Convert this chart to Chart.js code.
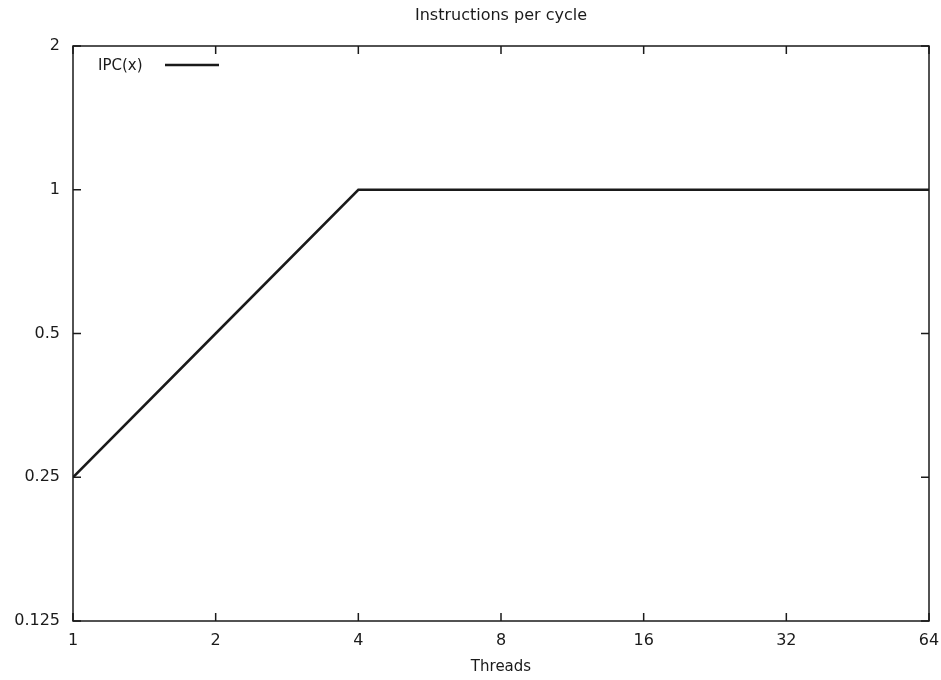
<!DOCTYPE html>
<html>
<head>
<meta charset="utf-8">
<script src="https://cdn.jsdelivr.net/npm/chart.js@4.4.1/dist/chart.umd.min.js"></script>
<style>
  html, body { margin: 0; padding: 0; background: #fff; }
  #wrap { width: 941px; height: 680px; }
</style>
</head>
<body>
<div id="wrap"><canvas id="ipc"></canvas></div>
<script>
// Data
const threads = [1, 2, 4, 8, 16, 32, 64];
const ipc = [0.25, 0.5, 1, 1, 1, 1, 1];
const xTicks = [1, 2, 4, 8, 16, 32, 64];
const yTicks = [0.125, 0.25, 0.5, 1, 2];
const chartTitle = 'Instructions per cycle';

const ink = '#1a1a1a';
const fontFamily = '"DejaVu Sans", sans-serif';

// gnuplot style frame with inward (mirrored) tick marks
const framePlugin = {
    id: 'frame',
    afterDatasetsDraw(chart) {
        const { ctx, chartArea: a, scales } = chart;
        const len = 8;
        ctx.save();
        ctx.strokeStyle = ink;
        ctx.lineWidth = 1.5;
        ctx.beginPath();
        scales.x.ticks.forEach(t => {
            const px = scales.x.getPixelForValue(t.value);
            ctx.moveTo(px, a.bottom); ctx.lineTo(px, a.bottom - len);
            ctx.moveTo(px, a.top); ctx.lineTo(px, a.top + len);
        });
        scales.y.ticks.forEach(t => {
            const py = scales.y.getPixelForValue(t.value);
            ctx.moveTo(a.left, py); ctx.lineTo(a.left + len, py);
            ctx.moveTo(a.right, py); ctx.lineTo(a.right - len, py);
        });
        ctx.stroke();
        ctx.strokeRect(a.left, a.top, a.right - a.left, a.bottom - a.top);
        ctx.restore();
    }
};

// title centred over the plot box, and key in the upper left corner
const textPlugin = {
    id: 'texts',
    afterDraw(chart) {
        const { ctx, chartArea: a } = chart;
        const ds = chart.data.datasets[0];
        ctx.save();
        ctx.fillStyle = ink;
        ctx.textBaseline = 'middle';
        ctx.font = '16px ' + fontFamily;
        ctx.textAlign = 'center';
        ctx.fillText(chartTitle, (a.left + a.right) / 2, 16);

        ctx.font = '15px ' + fontFamily;
        ctx.textAlign = 'left';
        ctx.fillText(ds.label, a.left + 25, a.top + 20);
        ctx.strokeStyle = ds.borderColor;
        ctx.lineWidth = ds.borderWidth;
        ctx.beginPath();
        ctx.moveTo(a.left + 92, a.top + 19);
        ctx.lineTo(a.left + 146, a.top + 19);
        ctx.stroke();
        ctx.restore();
    }
};

const fixTicks = (values) => (scale) => {
    scale.ticks = values.map(v => ({ value: v }));
};

new Chart(document.getElementById('ipc'), {
    type: 'line',
    data: {
        datasets: [{
            label: 'IPC(x)',
            data: threads.map((t, i) => ({ x: t, y: ipc[i] })),
            borderColor: ink,
            borderWidth: 2.5,
            pointRadius: 0,
            tension: 0,
            fill: false
        }]
    },
    options: {
        responsive: true,
        maintainAspectRatio: false,
        animation: false,
        layout: { padding: { left: 0, right: 12, top: 46, bottom: 0 } },
        scales: {
            x: {
                type: 'logarithmic',
                min: 1,
                max: 64,
                afterBuildTicks: fixTicks(xTicks),
                afterFit: (s) => {
                    s.height = 59;
                    s.paddingLeft = 0;
                    s.paddingRight = 0;
                },
                grid: { display: false, drawTicks: false },
                border: { display: false },
                ticks: {
                    padding: 10,
                    autoSkip: false,
                    maxRotation: 0,
                    color: ink,
                    font: { family: fontFamily, size: 16 },
                    callback: (v) => String(v)
                },
                title: {
                    display: true,
                    text: 'Threads',
                    color: ink,
                    font: { family: fontFamily, size: 15 },
                    padding: { top: 0, bottom: 4 }
                }
            },
            y: {
                type: 'logarithmic',
                min: 0.125,
                max: 2,
                afterBuildTicks: fixTicks(yTicks),
                afterFit: (s) => {
                    s.width = 73;
                    s.paddingTop = 0;
                    s.paddingBottom = 0;
                },
                grid: { display: false, drawTicks: false },
                border: { display: false },
                ticks: {
                    padding: 13,
                    autoSkip: false,
                    color: ink,
                    font: { family: fontFamily, size: 16 },
                    callback: (v) => String(v)
                }
            }
        },
        plugins: {
            legend: { display: false },
            tooltip: { enabled: false },
            title: { display: false }
        }
    },
    plugins: [framePlugin, textPlugin]
});
</script>
</body>
</html>
